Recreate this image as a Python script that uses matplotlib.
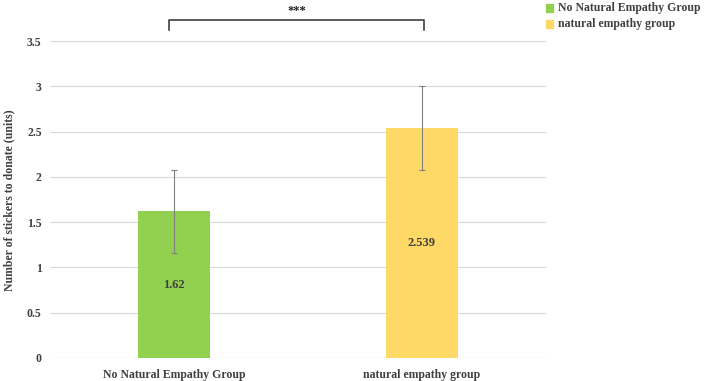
import numpy as np
import matplotlib.pyplot as plt

# data
groups = ['No Natural Empathy Group', 'natural empathy group']
means = [1.62, 2.539]
errors = [0.46, 0.46]
value_labels = ['1.62', '2.539']
colors = ['#92D050', '#FFD966']
y_ticks = [0, 0.5, 1, 1.5, 2, 2.5, 3, 3.5]
y_tick_labels = ['0', '0.5', '1', '1.5', '2', '2.5', '3', '3.5']

plt.rcParams['font.family'] = ['Liberation Serif', 'DejaVu Serif']
plt.rcParams['font.weight'] = 'bold'
txt = '#404040'

fig = plt.figure(figsize=(7.08, 3.81), dpi=100)
ax = fig.add_axes([50 / 708, 23 / 381, 496 / 708, 317 / 381])

x = np.arange(len(groups))
ax.bar(x, means, width=0.29, color=colors, zorder=2)
ax.errorbar(x, means, yerr=errors, fmt='none', ecolor='#7F7F7F',
            elinewidth=0.8, capsize=2.5, capthick=0.8, zorder=3)

for i in range(len(groups)):
    ax.text(x[i], means[i] / 2, value_labels[i], ha='center', va='center',
            fontsize=9, fontweight='bold', color=txt)

ax.set_xlim(-0.5, 1.5)
ax.set_ylim(0, 3.5)
ax.set_yticks(y_ticks)
ax.set_yticklabels(y_tick_labels)
ax.set_xticks(x)
ax.set_xticklabels(groups)
ax.tick_params(axis='both', length=0, labelsize=8.5, colors=txt)
ax.tick_params(axis='x', pad=8)
ax.tick_params(axis='y', pad=6)
ax.grid(axis='y', color='#D9D9D9', linewidth=0.8, zorder=0)
for s in ax.spines.values():
    s.set_visible(False)
ax.axhline(0, color='#D9D9D9', linewidth=0.8, zorder=1)

fig.text(9 / 708, 1 - 200 / 381, 'Number of stickers to donate (units)',
         rotation=90, ha='center', va='center', fontsize=8.5,
         fontweight='bold', color=txt)

# significance bracket
ax.plot([-0.02, -0.02, 1.01, 1.01], [3.62, 3.73, 3.73, 3.62],
        color='#404040', linewidth=1.2, clip_on=False)
ax.text(0.495, 3.77, '***', ha='center', va='bottom', fontsize=9,
        color='#222222', clip_on=False)

# legend
for i in range(len(groups)):
    yy = 1 - (8 + 16 * i) / 381
    fig.patches.append(plt.Rectangle((546 / 708, yy - 4 / 381), 7 / 708, 8 / 381,
                                     transform=fig.transFigure, color=colors[i]))
    fig.text(558 / 708, yy, groups[i], ha='left', va='center', fontsize=8.5,
             fontweight='bold', color=txt)

fig.savefig('out.png', dpi=100)
